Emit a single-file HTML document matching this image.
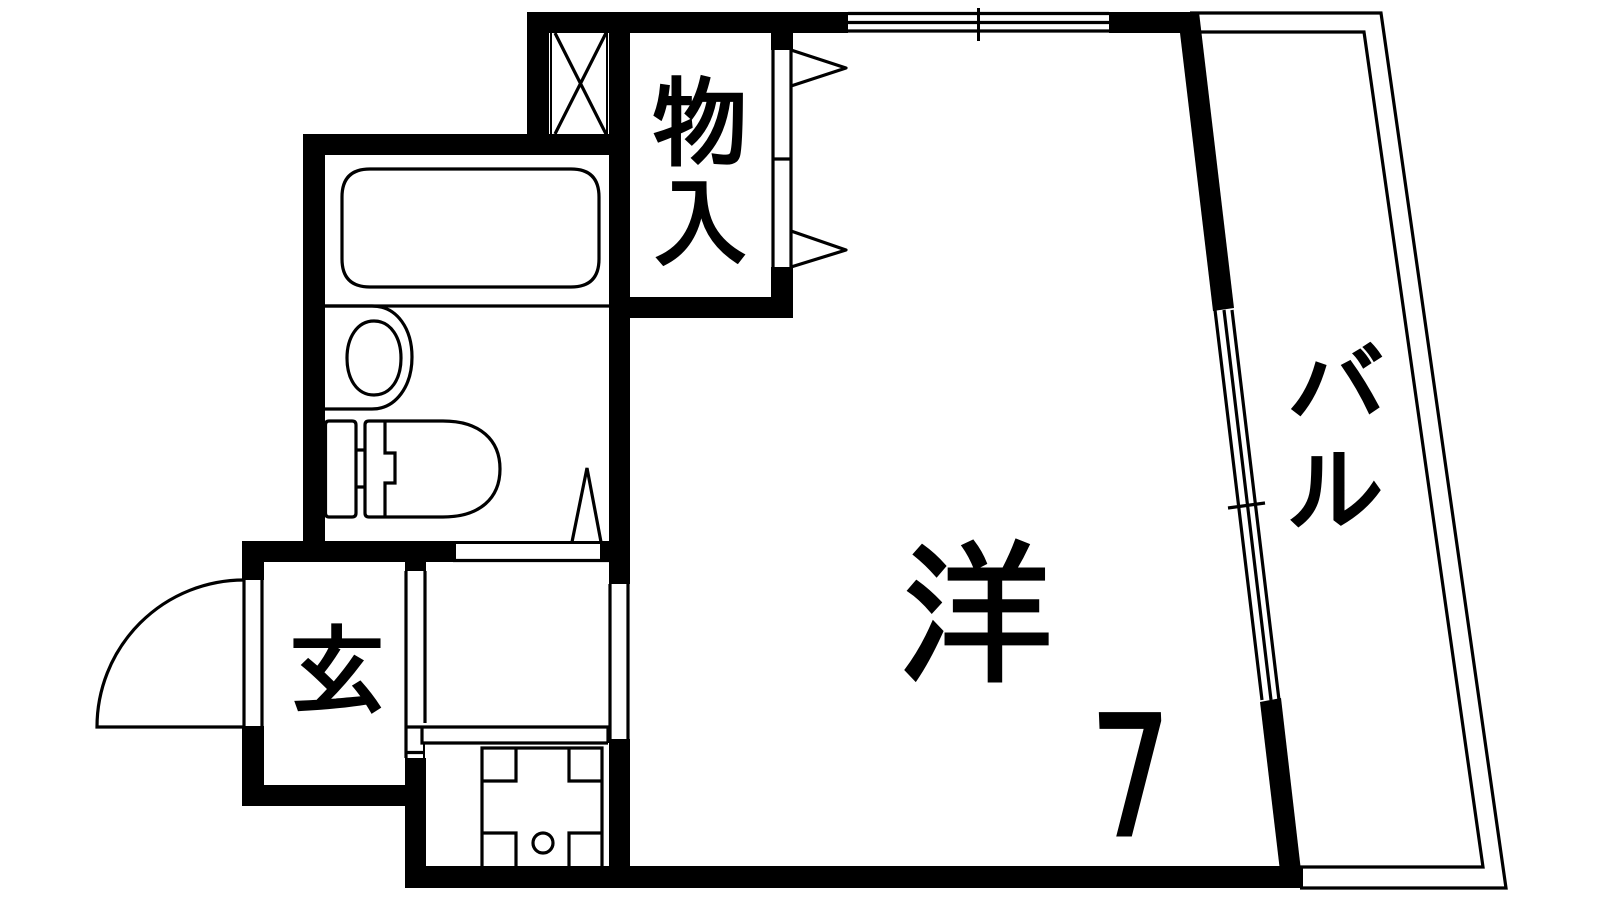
<!DOCTYPE html>
<html><head><meta charset="utf-8"><title>Floor plan</title>
<style>
html,body{margin:0;padding:0;background:#fff;width:1600px;height:900px;overflow:hidden}
svg{display:block}
text{font-family:"IPAGothic","Noto Sans CJK JP",sans-serif;fill:#000;stroke:#000;stroke-width:3}
</style></head><body>
<svg width="1600" height="900" viewBox="0 0 1600 900" xmlns="http://www.w3.org/2000/svg">
<rect width="1600" height="900" fill="#fff"/>
<g fill="#000" stroke="none">
<!-- top walls -->
<rect x="527" y="12" width="321" height="21"/>
<rect x="1109" y="12" width="85" height="21"/>
<rect x="527" y="12" width="22" height="125"/>
<rect x="609" y="12" width="21" height="876"/>
<rect x="303" y="134" width="327" height="21"/>
<rect x="303" y="134" width="22" height="420"/>
<!-- closet -->
<rect x="771" y="33" width="22" height="17"/>
<rect x="771" y="267" width="22" height="51"/>
<rect x="609" y="297" width="184" height="21"/>
<!-- mid horizontal walls -->
<rect x="242" y="541" width="388" height="21"/>
<rect x="242" y="541" width="22" height="39"/>
<rect x="242" y="726" width="22" height="80"/>
<rect x="242" y="785" width="184" height="21"/>
<rect x="405" y="562" width="21" height="9"/>
<rect x="405" y="758" width="21" height="130"/>
<rect x="405" y="866" width="898" height="22"/>
<!-- slanted walls -->
<polygon points="1180,33 1187,12 1199,12 1234,308 1213,311"/>
<polygon points="1260,702 1281,698 1303,888 1282,888"/>
</g>
<!-- right wall window opening -->
<rect x="609" y="584" width="21" height="155" fill="#fff"/>
<rect x="456" y="544" width="144" height="15" fill="#fff"/>
<g fill="none" stroke="#000" stroke-width="3.200">
<!-- right wall window -->
<path d="M610 584V739M628 584V739"/>
<path d="M453 560.500H609"/>
<!-- shaft -->
<path d="M551 33V134" stroke-width="2"/>
<path d="M555 33L606 134M606 33L555 134"/>
<path d="M607 33V134" stroke-width="2"/>
<!-- top window -->
<path d="M848 13.500H1109M848 22.500H1109M848 31H1109"/>
<path d="M978.500 8V41" stroke-width="3"/>
<!-- closet door -->
<path d="M773 50V267M791 50V267M773 159H791"/>
<path d="M791 50L846 68L791 86M791 231L846 250L791 267" stroke-linejoin="round"/>
<!-- bath -->
<path d="M370 169H571Q599 169 599 197V259Q599 287 571 287H370Q342 287 342 259V197Q342 169 370 169Z"/>
<path d="M325 306H609"/>
<!-- basin -->
<path d="M325 306H372C398 306 412 330 412 357C412 386 396 409 372 409H325"/>
<path d="M374 321C391 321 401 338 401 358C401 379 391 395 374 395C357 395 347 379 347 358C347 338 357 321 374 321Z"/>
<!-- toilet -->
<path d="M329 421H352Q356 421 356 425V513Q356 517 352 517H329Q325.500 517 325.500 513V425Q325.500 421 329 421Z"/>
<path d="M369 421H443C480 421 500 440 500 469C500 498 480 517 443 517H369Q365 517 365 513V425Q365 421 369 421Z"/>
<path d="M385 421V453H395V483H385V518"/>
<path d="M356 450H365M356 487H365"/>
<!-- small triangle -->
<path d="M572 542L587 468L601 542"/>
<!-- entry door -->
<path d="M244 580V726M262 580V726"/>
<path d="M244 580A147 147 0 0 0 97 727H244"/>
<!-- entry partition -->
<path d="M406 571V758M425 571V723"/>
<path d="M406 727H609"/>
<path d="M422 727V743H608"/>
<path d="M406 752.500H425"/>
<path d="M424 743V758" stroke-width="2"/>
<path d="M608 727V743"/>
<!-- stove -->
<path d="M482 866V748H602V866"/>
<path d="M482 781H516V748M602 781H569V748"/>
<path d="M482 833H516V866M602 833H569V866"/>
<circle cx="543" cy="843" r="10"/>
<!-- balcony -->
<path d="M1190 13H1381L1506 888H1300"/>
<path d="M1200 32H1364L1483 867H1300"/>
<!-- balcony window -->
<path d="M1215 310L1262 700M1224 310L1271 700M1232 310L1279 700"/>
<path d="M1228 508L1265 503"/>
</g>
<g text-anchor="middle">
<text x="700" y="158" font-size="98">物</text>
<text x="700" y="259" font-size="98">入</text>
<text x="337" y="706" font-size="99">玄</text>
<text x="1336" y="423" font-size="98">バ</text>
<text x="1336" y="525" font-size="98">ル</text>
<text x="976" y="670" font-size="157" stroke-width="4">洋</text>
<text transform="translate(1135 835) skewX(2.300) scale(.75 .98)" font-size="170" stroke-width="0" style="font-family:'DejaVu Sans',sans-serif">7</text>
</g>
</svg>
</body></html>
